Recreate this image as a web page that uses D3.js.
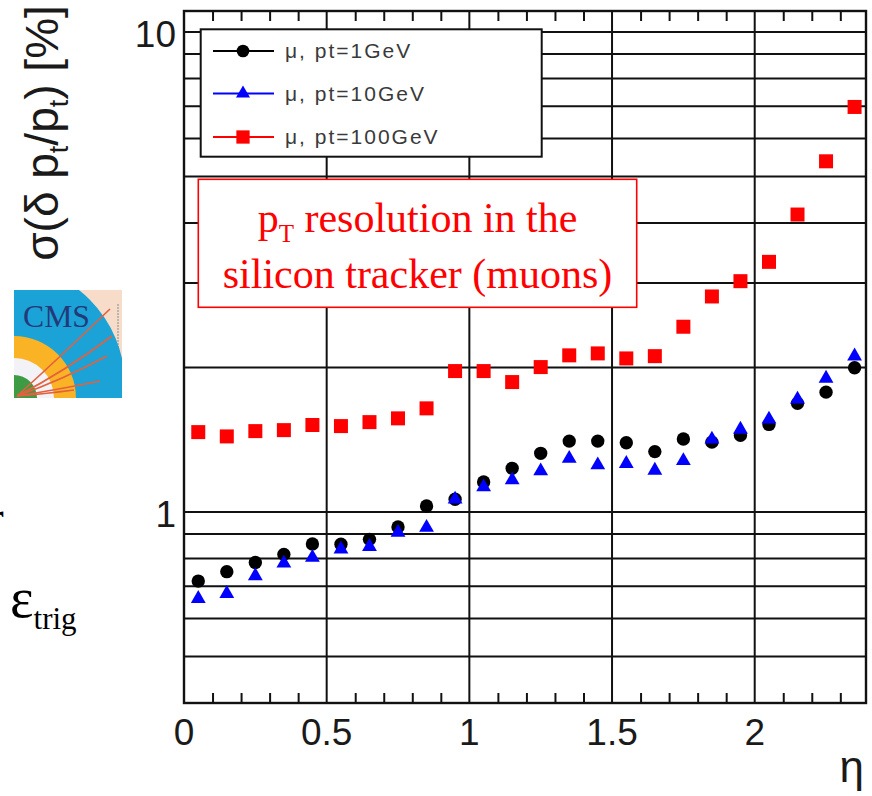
<!DOCTYPE html>
<html>
<head>
<meta charset="utf-8">
<script src="https://cdn.jsdelivr.net/npm/d3@7"></script>
<style>
  html, body { margin: 0; padding: 0; background: #fff; }
  svg { display: block; }
</style>
</head>
<body>
<svg id="chart"></svg>
<script>
// bin centres in eta
const eta = [0.05, 0.15, 0.25, 0.35, 0.45, 0.55, 0.65, 0.75, 0.85, 0.95, 1.05, 1.15,
             1.25, 1.35, 1.45, 1.55, 1.65, 1.75, 1.85, 1.95, 2.05, 2.15, 2.25, 2.35];
// sigma(delta pt/pt) in %
const sigma1GeV = [0.718, 0.751, 0.785, 0.816, 0.858, 0.857, 0.877, 0.931, 1.029, 1.063, 1.155, 1.233,
                   1.325, 1.405, 1.405, 1.394, 1.336, 1.419, 1.398, 1.444, 1.522, 1.684, 1.777, 1.998];
const sigma10GeV = [0.660, 0.676, 0.736, 0.782, 0.804, 0.836, 0.847, 0.906, 0.928, 1.063, 1.127, 1.166,
                    1.217, 1.292, 1.253, 1.261, 1.221, 1.279, 1.417, 1.486, 1.560, 1.717, 1.898, 2.112];
const sigma100GeV = [1.467, 1.437, 1.474, 1.481, 1.518, 1.510, 1.539, 1.567, 1.644, 1.966, 1.966, 1.865,
                     2.004, 2.120, 2.140, 2.089, 2.112, 2.432, 2.812, 3.026, 3.320, 4.166, 5.378, 6.980];

const seriesNames = ['\u03bc, pt=1GeV', '\u03bc, pt=10GeV', '\u03bc, pt=100GeV'];
const seriesColors = ['#000000', '#0000ff', '#ff0000'];

const xTicks = [0, 0.5, 1, 1.5, 2];
const xTickLabels = ['0', '0.5', '1', '1.5', '2'];
const yGrid = [0.5, 0.6, 0.7, 0.8, 0.9, 1, 2, 3, 4, 5, 6, 7, 8, 9, 10];
const yTicks = [1, 10];
const yTickLabels = ['1', '10'];

const W = 872, H = 796;
const frame = {left: 184, right: 866, top: 11, bottom: 703};
const sansFont = '"Liberation Sans", Arial, Helvetica, sans-serif';
const serifFont = '"Liberation Serif", "Times New Roman", serif';

const svg = d3.select('#chart').attr('width', W).attr('height', H);
svg.append('rect').attr('width', W).attr('height', H).attr('fill', '#fff');

const x = d3.scaleLinear().domain([0, 2.39]).range([frame.left, frame.right]);
const y = d3.scaleLog().domain([0.4, 11.06]).range([frame.bottom, frame.top]);

// grid
const grid = svg.append('g').attr('stroke', '#111').attr('stroke-width', 2);
grid.selectAll('line.h')
  .data(yGrid)
  .enter()
  .append('line')
  .attr('class', 'h')
  .attr('x1', frame.left).attr('x2', frame.right)
  .attr('y1', d => y(d)).attr('y2', d => y(d));
grid.selectAll('line.v')
  .data(xTicks.slice(1))
  .enter()
  .append('line')
  .attr('class', 'v')
  .attr('x1', d => x(d)).attr('x2', d => x(d))
  .attr('y1', frame.top).attr('y2', frame.bottom);

// minor ticks on bottom and top
const minor = d3.range(1, 24).map(i => i / 10).filter(v => Math.abs(v * 2 - Math.round(v * 2)) > 1e-6);
svg.append('g')
  .attr('transform', `translate(0,${frame.bottom})`)
  .call(d3.axisBottom(x).tickValues(minor).tickSize(-10).tickFormat(''))
  .call(g => g.select('.domain').remove())
  .selectAll('line').attr('stroke', '#111').attr('stroke-width', 2);
svg.append('g')
  .attr('transform', `translate(0,${frame.top})`)
  .call(d3.axisTop(x).tickValues(minor).tickSize(-10).tickFormat(''))
  .call(g => g.select('.domain').remove())
  .selectAll('line').attr('stroke', '#111').attr('stroke-width', 2);

// frame
svg.append('rect')
  .attr('x', frame.left).attr('y', frame.top)
  .attr('width', frame.right - frame.left).attr('height', frame.bottom - frame.top)
  .attr('fill', 'none').attr('stroke', '#111').attr('stroke-width', 2.4);

// markers
const symbols = [d3.symbolCircle, d3.symbolTriangle, d3.symbolSquare];
const sizes = [140, 95, 196];
[sigma1GeV, sigma10GeV, sigma100GeV].forEach((vals, k) => {
  svg.append('g')
    .selectAll('path')
    .data(vals)
    .enter()
    .append('path')
    .attr('d', d3.symbol().type(symbols[k]).size(sizes[k]))
    .attr('transform', (d, i) => `translate(${x(eta[i])},${y(d)})`)
    .attr('fill', seriesColors[k]);
});

// tick labels
svg.append('g')
  .selectAll('text')
  .data(xTicks)
  .enter()
  .append('text')
  .attr('x', d => x(d))
  .attr('y', 745)
  .attr('text-anchor', 'middle')
  .attr('font-family', sansFont)
  .attr('font-size', 37)
  .attr('fill', '#1a1a1a')
  .text((d, i) => xTickLabels[i]);
svg.append('g')
  .selectAll('text')
  .data(yTicks)
  .enter()
  .append('text')
  .attr('x', 176)
  .attr('y', d => y(d) + 15)
  .attr('text-anchor', 'end')
  .attr('font-family', sansFont)
  .attr('font-size', 37)
  .attr('fill', '#1a1a1a')
  .text((d, i) => yTickLabels[i]);

// axis titles
svg.append('text')
  .attr('x', 864).attr('y', 782)
  .attr('text-anchor', 'end')
  .attr('font-family', sansFont)
  .attr('font-size', 44)
  .attr('fill', '#1a1a1a')
  .text('\u03b7');

const yTitle = svg.append('text')
  .attr('transform', 'translate(58,133) rotate(-90)')
  .attr('text-anchor', 'middle')
  .attr('font-family', sansFont)
  .attr('font-size', 46)
  .attr('fill', '#1a1a1a');
yTitle.append('tspan').text('\u03c3(\u03b4 p');
yTitle.append('tspan').attr('font-size', 27).attr('dy', 10).text('t');
yTitle.append('tspan').attr('dy', -10).text('/p');
yTitle.append('tspan').attr('font-size', 27).attr('dy', 10).text('t');
yTitle.append('tspan').attr('dy', -10).text(') [%]');

// legend
const legend = svg.append('g');
legend.append('rect')
  .attr('x', 200.7).attr('y', 29.3).attr('width', 341).attr('height', 127.4)
  .attr('fill', '#fff').attr('stroke', '#111').attr('stroke-width', 2);
const legendY = [51, 93.5, 137];
seriesNames.forEach((name, k) => {
  legend.append('line')
    .attr('x1', 213).attr('x2', 274)
    .attr('y1', legendY[k]).attr('y2', legendY[k])
    .attr('stroke', seriesColors[k]).attr('stroke-width', 2);
  legend.append('path')
    .attr('d', d3.symbol().type(symbols[k]).size(sizes[k] * 0.9))
    .attr('transform', `translate(243,${legendY[k]})`)
    .attr('fill', seriesColors[k]);
  legend.append('text')
    .attr('x', 285).attr('y', legendY[k] + 7)
    .attr('font-family', sansFont)
    .attr('font-size', 21)
    .attr('letter-spacing', 2)
    .attr('fill', '#3a3a3a')
    .text(name);
});

// annotation box
const note = svg.append('g');
note.append('rect')
  .attr('x', 198.3).attr('y', 179.3).attr('width', 438.4).attr('height', 128)
  .attr('fill', '#fff').attr('stroke', '#ff0000').attr('stroke-width', 1.6);
const line1 = note.append('text')
  .attr('x', 417.5).attr('y', 232)
  .attr('text-anchor', 'middle')
  .attr('font-family', serifFont)
  .attr('font-size', 42)
  .attr('fill', '#ff0000');
line1.append('tspan').text('p');
line1.append('tspan').attr('font-size', 25).attr('dy', 10).text('T');
line1.append('tspan').attr('dy', -10).text(' resolution in the');
note.append('text')
  .attr('x', 417.5).attr('y', 288)
  .attr('text-anchor', 'middle')
  .attr('font-family', serifFont)
  .attr('font-size', 42)
  .attr('fill', '#ff0000')
  .text('silicon tracker (muons)');

// text pieces from the slide on the left
svg.append('text')
  .attr('x', -11).attr('y', 532)
  .attr('font-family', serifFont)
  .attr('font-size', 44)
  .attr('fill', '#000')
  .text('r');
const eps = svg.append('text')
  .attr('x', 10).attr('y', 617)
  .attr('font-family', serifFont)
  .attr('font-size', 56)
  .attr('fill', '#000');
eps.append('tspan').text('\u03b5');
eps.append('tspan').attr('font-size', 31).attr('dy', 12).text('trig');

// CMS logo
const logo = svg.append('g').attr('transform', 'translate(14,290)');
svg.append('defs').append('clipPath').attr('id', 'logoClip')
  .append('rect').attr('width', 108).attr('height', 108);
const lg = logo.append('g').attr('clip-path', 'url(#logoClip)');
lg.append('rect').attr('width', 108).attr('height', 108).attr('fill', '#f7dcc9');
lg.append('line')
  .attr('x1', 104).attr('x2', 104).attr('y1', 14).attr('y2', 60)
  .attr('stroke', '#9a9a9a').attr('stroke-width', 1.2).attr('stroke-dasharray', '2,1');
lg.append('circle').attr('cx', -10).attr('cy', 95).attr('r', 121).attr('fill', '#1ba2d6');
lg.append('circle').attr('cx', 0).attr('cy', 108).attr('r', 62).attr('fill', '#f9b324');
lg.append('circle').attr('cx', 0).attr('cy', 108).attr('r', 40).attr('fill', '#f3f2f6');
lg.append('circle').attr('cx', 0).attr('cy', 108).attr('r', 23).attr('fill', '#3d9b43');
const tracks = [
  {end: [96, 19], ctrl: [45, 68]},
  {end: [98, 46], ctrl: [50, 82]},
  {end: [93, 66], ctrl: [48, 90]},
  {end: [86, 91], ctrl: [42, 100]},
  {end: [60, 100], ctrl: [30, 104]}
];
lg.append('g')
  .selectAll('path')
  .data(tracks)
  .enter()
  .append('path')
  .attr('d', d => `M3,106 Q${d.ctrl[0]},${d.ctrl[1]} ${d.end[0]},${d.end[1]}`)
  .attr('fill', 'none')
  .attr('stroke', '#e4603e')
  .attr('stroke-width', 1.6);
lg.append('text')
  .attr('x', 9).attr('y', 37)
  .attr('font-family', serifFont)
  .attr('font-size', 32)
  .attr('textLength', 67)
  .attr('lengthAdjust', 'spacingAndGlyphs')
  .attr('fill', '#233a7a')
  .text('CMS');
</script>
</body>
</html>
